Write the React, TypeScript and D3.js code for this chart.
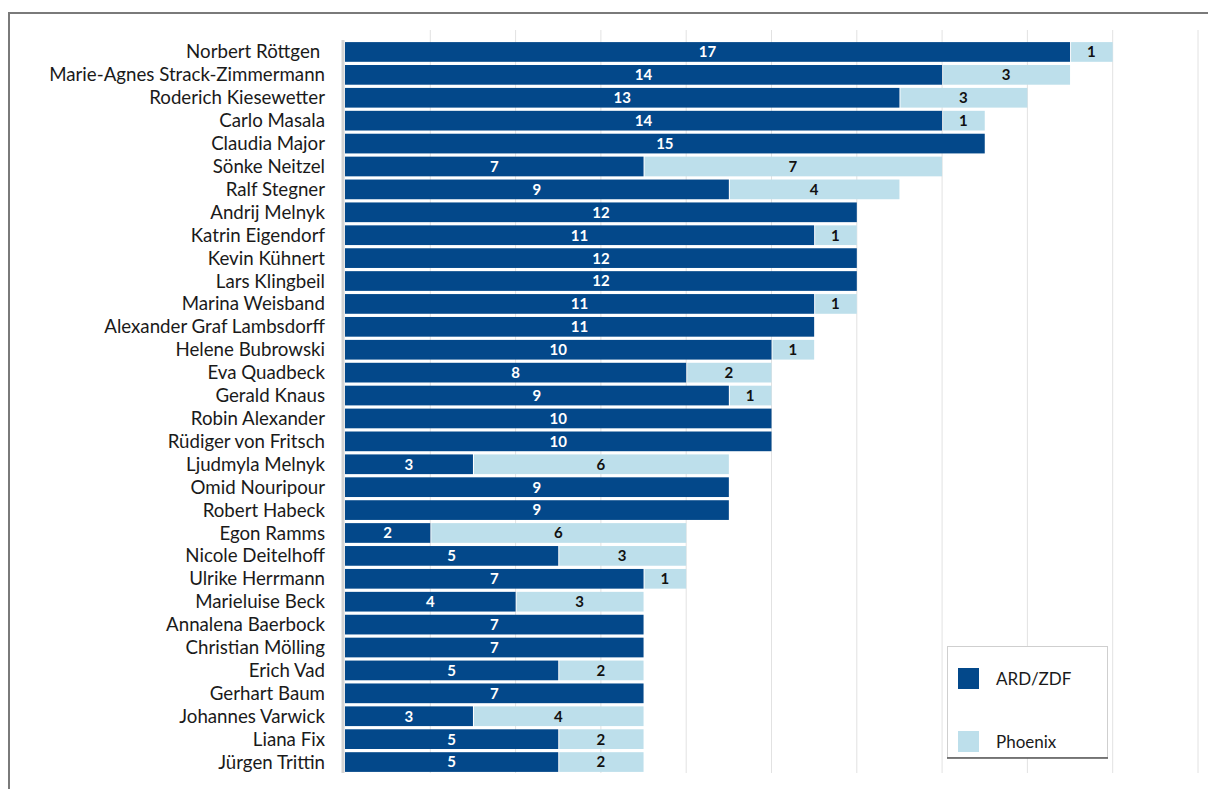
import React from "react";
import * as d3 from "d3";

const NAMES = [
  "Norbert Röttgen ",
  "Marie-Agnes Strack-Zimmermann",
  "Roderich Kiesewetter",
  "Carlo Masala",
  "Claudia Major",
  "Sönke Neitzel",
  "Ralf Stegner",
  "Andrij Melnyk",
  "Katrin Eigendorf",
  "Kevin Kühnert",
  "Lars Klingbeil",
  "Marina Weisband",
  "Alexander Graf Lambsdorff",
  "Helene Bubrowski",
  "Eva Quadbeck",
  "Gerald Knaus",
  "Robin Alexander",
  "Rüdiger von Fritsch",
  "Ljudmyla Melnyk",
  "Omid Nouripour",
  "Robert Habeck",
  "Egon Ramms",
  "Nicole Deitelhoff",
  "Ulrike Herrmann",
  "Marieluise Beck",
  "Annalena Baerbock",
  "Christian Mölling",
  "Erich Vad",
  "Gerhart Baum",
  "Johannes Varwick",
  "Liana Fix",
  "Jürgen Trittin",
];
const ARD_ZDF = [17, 14, 13, 14, 15, 7, 9, 12, 11, 12, 12, 11, 11, 10, 8, 9, 10, 10, 3, 9, 9, 2, 5, 7, 4, 7, 7, 5, 7, 3, 5, 5];
const PHOENIX = [1, 3, 3, 1, 0, 7, 4, 0, 1, 0, 0, 1, 0, 1, 2, 1, 0, 0, 6, 0, 0, 6, 3, 1, 3, 0, 0, 2, 0, 4, 2, 2];
const SERIES = ["ARD/ZDF", "Phoenix"];
const GRID_TICKS = [2, 4, 6, 8, 10, 12, 14, 16, 18, 20];

const W = 1208;
const H = 789;
const DARK = "#03488a";
const LIGHT = "#bddfeb";
const FONT = "Lato, 'Noto Sans', sans-serif";

const App = () => {
  const x = d3.scaleLinear().domain([0, 20]).range([345, 1198]);
  const y = d3.scaleBand().domain(NAMES).range([40.5, 773.5]).paddingInner(0.14).paddingOuter(0.07);

  const rows = NAMES.map((name, i) => ({ name, a: ARD_ZDF[i], p: PHOENIX[i] }));
  const bh = y.bandwidth();

  return (
    <svg width={W} height={H} style={{ display: "block", position: "absolute", left: 0, top: 0 }}>
      <rect x={0} y={0} width={W} height={H} fill="#fff" />
      {/* frame */}
      <line x1={9} x2={W} y1={13} y2={13} stroke="#7a7a7a" strokeWidth={2} />
      <line x1={9} x2={9} y1={12} y2={H} stroke="#7a7a7a" strokeWidth={2} />

      {/* grid */}
      {GRID_TICKS.map(t => (
        <line key={t} x1={x(t)} x2={x(t)} y1={30} y2={773} stroke="#e2e2e2" strokeWidth={1} />
      ))}
      <line x1={343} x2={343} y1={40} y2={773} stroke="#d4d4d4" strokeWidth={3} />

      {rows.map(r => {
        const yy = y(r.name) as number;
        const cy = yy + bh / 2;
        return (
          <g key={r.name}>
            <text x={325} y={cy} dy="0.35em" textAnchor="end" fontFamily={FONT} fontSize={18.7} fill="#1a1a1a" style={{ whiteSpace: "pre" }}>
              {r.name}
            </text>
            <rect x={x(0)} y={yy} width={x(r.a) - x(0)} height={bh} fill={DARK} />
            {r.p > 0 && (
              <rect x={x(r.a) + 1} y={yy} width={x(r.a + r.p) - x(r.a) - 1} height={bh} fill={LIGHT} />
            )}
            <text x={(x(0) + x(r.a)) / 2} y={cy} dy="0.36em" textAnchor="middle" fontFamily={FONT} fontWeight={700} fontSize={15} fill="#fff">
              {r.a}
            </text>
            {r.p > 0 && (
              <text x={(x(r.a) + x(r.a + r.p)) / 2} y={cy} dy="0.36em" textAnchor="middle" fontFamily={FONT} fontWeight={700} fontSize={15} fill="#111">
                {r.p}
              </text>
            )}
          </g>
        );
      })}

      {/* legend */}
      <g>
        <rect x={947.5} y={646.5} width={160} height={111} fill="#fff" stroke="#cfcfcf" strokeWidth={1} />
        <line x1={947} x2={1108} y1={758} y2={758} stroke="#555" strokeWidth={1.5} />
        {SERIES.map((s, i) => (
          <g key={s} transform={`translate(958,${668 + i * 63})`}>
            <rect x={0} y={0} width={21} height={21} fill={i === 0 ? DARK : LIGHT} />
            <text x={38} y={11} dy="0.36em" fontFamily={FONT} fontSize={17} fill="#1a1a1a">
              {s}
            </text>
          </g>
        ))}
      </g>
    </svg>
  );
};

export default App;
